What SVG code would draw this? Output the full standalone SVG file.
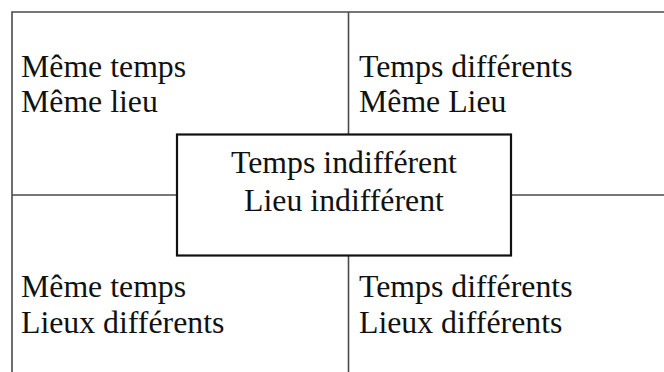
<svg xmlns="http://www.w3.org/2000/svg" width="664" height="372" viewBox="0 0 664 372">
<style>
.grid{stroke:#4a4a4a;stroke-width:1.6;fill:none}
.box{stroke:#111;stroke-width:2.2;fill:#fff}
text{font-family:"Liberation Serif","Times New Roman",serif;font-size:31.8px;fill:#111}
.c{text-anchor:middle}
</style>
<rect width="664" height="372" fill="#fff"/>
<g id="connectors">
<path class="grid" d="M12 372V12H664"/>
<path class="grid" d="M348.5 12V372"/>
<path class="grid" d="M12 195H664"/>
</g>
<g id="q1"><text x="21" y="77">Même temps</text><text x="21" y="111.5">Même lieu</text></g>
<g id="q2"><text x="359" y="77">Temps différents</text><text x="359" y="111.5">Même Lieu</text></g>
<g id="q3"><text x="21" y="296.5">Même temps</text><text x="21" y="332.5">Lieux différents</text></g>
<g id="q4"><text x="359" y="296.5">Temps différents</text><text x="359" y="332.5">Lieux différents</text></g>
<g id="center">
<rect class="box" x="177" y="134.5" width="334" height="121"/>
<text class="c" x="344" y="173">Temps indifférent</text>
<text class="c" x="344" y="210.5">Lieu indifférent</text>
</g>
</svg>
